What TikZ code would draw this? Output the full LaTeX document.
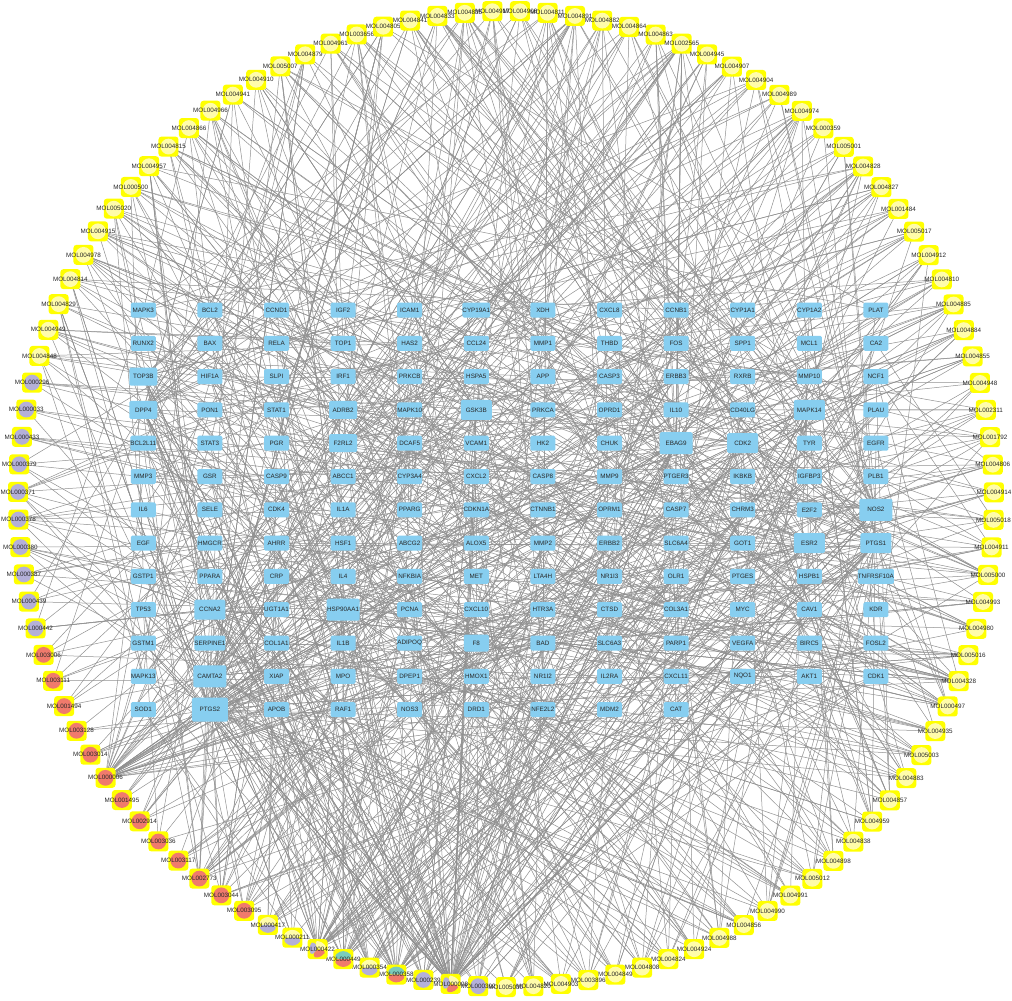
\documentclass[tikz,border=0pt]{standalone}
\usepackage{fontspec}
\setmainfont{Liberation Sans}
\pgfdeclarelayer{bglayer}
\pgfdeclarelayer{edgelayer}
\pgfsetlayers{bglayer,edgelayer,main}
\definecolor{molyel}{RGB}{255,255,0}
\definecolor{paleyel}{RGB}{255,252,170}
\definecolor{lav}{RGB}{180,176,216}
\definecolor{sal}{RGB}{240,122,108}
\definecolor{tealc}{RGB}{122,204,188}
\definecolor{genebl}{RGB}{135,206,240}
\definecolor{edgegr}{RGB}{145,145,145}
\tikzset{
  gene/.style={fill=genebl, rounded corners=1.5pt, minimum width=25pt, minimum height=15pt,
    inner sep=0pt, font=\fontsize{6.3}{7}\selectfont, text=black!85},
  sz0/.style={},
  szf/.style={minimum height=17pt},
  sz1/.style={minimum width=28pt, minimum height=18pt},
  sz2/.style={minimum width=31pt, minimum height=20pt},
  sz3/.style={minimum width=33pt, minimum height=22pt},
  sz4/.style={minimum width=36pt, minimum height=24pt},
  mol/.style={fill=molyel, rounded corners=3pt, minimum size=20pt, inner sep=0pt},
  mollbl/.style={font=\fontsize{6.3}{7}\selectfont, text=black!85, inner sep=0pt},
  molY/.style={path picture={\fill[paleyel] (path picture bounding box.center) circle (7.9pt);}},
  molL/.style={path picture={\fill[lav] (path picture bounding box.center) circle (7.9pt);}},
  molR/.style={path picture={\fill[sal] (path picture bounding box.center) circle (7.9pt);}},
  molYL/.style={path picture={
    \fill[paleyel] (path picture bounding box.center) -- ++(0:7.9pt) arc (0:180:7.9pt) -- cycle;
    \fill[lav] (path picture bounding box.center) -- ++(180:7.9pt) arc (180:360:7.9pt) -- cycle;}},
  molTR/.style={path picture={
    \fill[tealc] (path picture bounding box.center) -- ++(0:7.9pt) arc (0:180:7.9pt) -- cycle;
    \fill[sal] (path picture bounding box.center) -- ++(180:7.9pt) arc (180:360:7.9pt) -- cycle;}},
  molLYR/.style={path picture={
    \fill[lav] (path picture bounding box.center) -- ++(110:7.9pt) arc (110:230:7.9pt) -- cycle;
    \fill[sal] (path picture bounding box.center) -- ++(230:7.9pt) arc (230:350:7.9pt) -- cycle;
    \fill[paleyel] (path picture bounding box.center) -- ++(-10:7.9pt) arc (-10:110:7.9pt) -- cycle;}},
  edge/.style={draw=edgegr, line width=0.5pt}
}
\def\genelist{MAPK3/sz0,BCL2/sz0,CCND1/sz0,IGF2/sz0,ICAM1/sz0,CYP19A1/sz0,XDH/sz0,CXCL8/sz0,CCNB1/sz0,CYP1A1/sz0,CYP1A2/sz0,PLAT/sz0,%
RUNX2/sz0,BAX/sz0,RELA/sz0,TOP1/sz0,HAS2/sz0,CCL24/sz0,MMP1/sz0,THBD/sz0,FOS/sz0,SPP1/sz0,MCL1/sz0,CA2/sz0,%
TOP3B/sz1,HIF1A/sz0,SLPI/sz0,IRF1/sz0,PRKCB/sz0,HSPA5/sz0,APP/sz0,CASP3/sz0,ERBB3/sz0,RXRB/sz0,MMP10/sz0,NCF1/sz0,%
DPP4/sz1,PON1/sz0,STAT1/sz0,ADRB2/sz1,MAPK10/sz0,GSK3B/sz2,PRKCA/sz0,OPRD1/sz0,IL10/sz0,CD40LG/sz0,MAPK14/sz2,PLAU/sz0,%
BCL2L11/sz0,STAT3/sz0,PGR/sz0,F2RL2/sz1,DCAF5/sz0,VCAM1/sz0,HK2/sz0,CHUK/sz0,EBAG9/sz3,CDK2/sz2,TYR/sz0,EGFR/sz0,%
MMP3/sz0,GSR/sz0,CASP9/sz0,ABCC1/sz0,CYP3A4/sz0,CXCL2/sz0,CASP8/sz0,MMP9/sz0,PTGER3/sz0,IKBKB/sz0,IGFBP3/sz0,PLB1/sz0,%
IL6/sz0,SELE/sz0,CDK4/sz0,IL1A/sz0,PPARG/sz0,CDKN1A/sz0,CTNNB1/sz0,OPRM1/sz0,CASP7/sz0,CHRM3/sz0,E2F2/sz0,NOS2/sz3,%
EGF/sz0,HMGCR/sz0,AHRR/sz0,HSF1/sz0,ABCG2/sz0,ALOX5/sz0,MMP2/sz0,ERBB2/sz0,SLC6A4/sz0,GOT1/sz0,ESR2/sz2,PTGS1/sz2,%
GSTP1/sz0,PPARA/sz0,CRP/sz0,IL4/sz0,NFKBIA/sz0,MET/sz0,LTA4H/sz0,NR1I3/sz0,OLR1/sz0,PTGES/sz0,HSPB1/sz0,TNFRSF10A/sz0,%
TP53/sz0,CCNA2/sz2,UGT1A1/sz0,HSP90AA1/sz3,PCNA/sz0,CXCL10/sz0,HTR3A/sz0,CTSD/sz0,COL3A1/sz0,MYC/sz0,CAV1/sz0,KDR/sz0,%
GSTM1/sz0,SERPINE1/sz0,COL1A1/sz0,IL1B/sz0,ADIPOQ/sz0,F8/szf,BAD/sz0,SLC6A3/sz0,PARP1/sz0,VEGFA/sz0,BIRC5/sz0,FOSL2/sz0,%
MAPK13/sz0,CAMTA2/sz3,XIAP/sz0,MPO/sz0,DPEP1/sz0,HMOX1/sz0,NR1I2/sz0,IL2RA/sz0,CXCL11/sz0,NQO1/sz0,AKT1/sz0,CDK1/sz0,%
SOD1/sz0,PTGS2/sz4,APOB/sz0,RAF1/sz0,NOS3/sz0,DRD1/sz0,NFE2L2/sz0,MDM2/sz0,CAT/sz0}
\def\mollist{MOL004917/molY/6,MOL004908/molY/6,MOL004811/molY/8,MOL004891/molY/12,MOL004882/molY/6,MOL004864/molY/7,MOL004863/molY/6,MOL002565/molY/14,MOL004945/molY/5,MOL004907/molY/6,%
MOL004904/molY/6,MOL004989/molY/5,MOL004974/molY/10,MOL000359/molY/4,MOL005001/molY/5,MOL004828/molY/9,MOL004827/molY/7,MOL001484/molY/5,MOL005017/molY/6,MOL004912/molY/6,%
MOL004810/molY/5,MOL004885/molY/8,MOL004884/molY/6,MOL004855/molY/5,MOL004948/molY/4,MOL002311/molY/5,MOL001792/molY/5,MOL004806/molY/6,MOL004914/molY/5,MOL005018/molY/5,%
MOL004911/molY/6,MOL005000/molY/9,MOL004993/molY/5,MOL004980/molY/6,MOL005016/molY/6,MOL004328/molY/14,MOL000497/molY/10,MOL004935/molY/6,MOL005003/molY/6,MOL004883/molY/7,%
MOL004857/molY/7,MOL004959/molY/7,MOL004838/molY/5,MOL004898/molY/6,MOL005012/molY/7,MOL004991/molY/6,MOL004990/molY/7,MOL004856/molY/8,MOL004988/molY/7,MOL004924/molY/6,%
MOL004824/molY/7,MOL004808/molY/7,MOL004849/molY/6,MOL003896/molY/7,MOL004903/molY/6,MOL004820/molY/6,MOL005030/molY/6,MOL000392/molL/8,MOL000098/molLYR/80,MOL000239/molL/10,%
MOL000358/molTR/30,MOL000354/molYL/12,MOL000449/molTR/15,MOL000422/molLYR/35,MOL000211/molYL/5,MOL000417/molYL/8,MOL003095/molR/8,MOL003044/molR/9,MOL002773/molR/14,MOL003117/molR/4,%
MOL003036/molR/3,MOL002914/molR/5,MOL001495/molR/3,MOL000006/molR/40,MOL003014/molR/4,MOL003128/molR/2,MOL001494/molR/3,MOL003111/molR/4,MOL003006/molR/3,MOL000442/molL/4,%
MOL000439/molL/3,MOL000387/molL/4,MOL000380/molL/5,MOL000378/molL/6,MOL000371/molL/6,MOL000379/molL/4,MOL000433/molL/4,MOL000033/molL/3,MOL000296/molL/4,MOL004848/molY/6,%
MOL004949/molY/6,MOL004829/molY/6,MOL004814/molY/7,MOL004978/molY/8,MOL004915/molY/7,MOL005020/molY/8,MOL000500/molY/7,MOL004957/molY/8,MOL004815/molY/7,MOL004866/molY/7,%
MOL004966/molY/7,MOL004941/molY/6,MOL004910/molY/6,MOL005007/molY/8,MOL004879/molY/7,MOL004961/molY/7,MOL003656/molY/8,MOL004805/molY/8,MOL004841/molY/8,MOL004833/molY/9,%
MOL004835/molY/9}
\begin{document}
\begin{tikzpicture}[x=1pt,y=-1pt]
\begin{pgfonlayer}{bglayer}
\fill[white] (0,0) rectangle (1012,1001);
\end{pgfonlayer}
\useasboundingbox (0,0) rectangle (1012,1001);
% target nodes (grid)
\foreach \nm/\sz [count=\k from 0] in \genelist {
  \pgfmathtruncatemacro\rr{int(\k/12)}
  \pgfmathtruncatemacro\cc{\k-12*\rr}
  \pgfmathtruncatemacro\gi{\k+1}
  \node[gene,\sz] (g\gi) at ({143.3+66.6*\cc},{310+33.3*\rr}) {\nm};
}
% compound nodes (circle)
\foreach \nm/\st/\dg [count=\k from 0] in \mollist {
  \pgfmathsetmacro\t{91.6-\k*3.243243}
  \node[mol,\st,label={[mollbl]center:\nm}] (m\k) at ({506+488*cos(\t)},{499-488*sin(\t)}) {};
}
% edges
\pgfmathsetseed{7}
\begin{pgfonlayer}{edgelayer}
\foreach \nm/\st/\dg [count=\k from 0] in \mollist {
  \pgfmathtruncatemacro\dd{\dg<20 ? round(\dg*1.3) : \dg}
  \foreach \e in {1,...,\dd} {
    \pgfmathrandominteger{\u}{1}{100}
    \ifnum\u<37
      \pgfmathrandominteger{\h}{0}{34}
      \pgfmathtruncatemacro\gt{{146,146,146,146,134,134,134,110,110,110,84,84,84,96,96,96,57,57,57,112,112,95,95,42,42,58,58,47,47,37,37,25,25,52,40}[\h]}
    \else
      \pgfmathrandominteger{\gt}{1}{153}
    \fi
    \draw[edge] (m\k.center) -- (g\gt.center);
  }
}
\end{pgfonlayer}
\end{tikzpicture}
\end{document}
